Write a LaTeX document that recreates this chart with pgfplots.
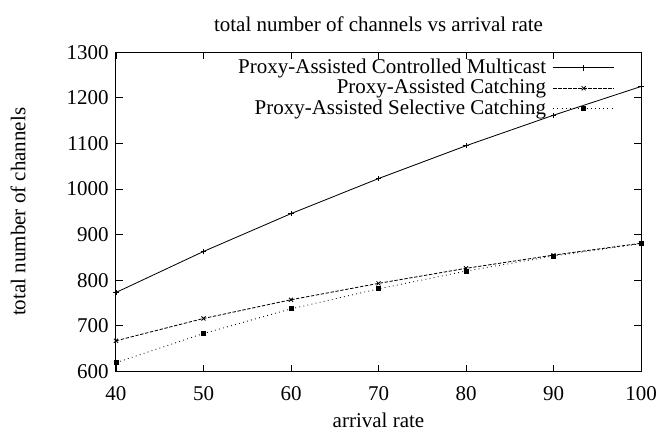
\documentclass[border=0pt,11pt]{standalone}
\usepackage{fontspec}
\setmainfont{Liberation Serif}
\usepackage{pgfplots}
\pgfplotsset{compat=1.18}
\usetikzlibrary{calc}
\begin{document}
\fontsize{12.6}{15}\selectfont
\begin{tikzpicture}
\begin{axis}[
  scale only axis,
  width=315pt, height=191.4pt,
  xmin=40, xmax=100, ymin=600, ymax=1300,
  xtick={40,50,...,100}, ytick={600,700,...,1300},
  tick align=inside,
  major tick length=4pt,
  /pgf/number format/assume math mode=true,
  /pgf/number format/1000 sep={},
  xticklabel style={yshift=-5pt},
  title={total number of channels vs arrival rate},
  title style={yshift=2pt},
  xlabel={arrival rate},
  xlabel style={yshift=1.5pt},
  ylabel={total number of channels},
  ylabel style={yshift=16pt},
  axis line style={line width=0.6pt},
  every tick/.style={black, line width=0.5pt},
  legend plot pos=right,
  legend cell align=right,
  legend style={draw=none, fill=none, at={(0.95,0.98)}, anchor=north east,
    nodes={inner sep=0pt}, row sep=1.6pt, column sep=4pt, inner sep=0pt},
  legend image code/.code={\draw[#1, mark repeat=2, mark phase=2] plot coordinates {(0cm,0cm) (0.64cm,0cm) (1.28cm,0cm)};},
]
\coordinate (ll) at (rel axis cs:0,0);
\coordinate (ur) at (rel axis cs:1,1);
\addplot[black, line width=0.5pt, mark=+, mark size=1.6pt, mark options={solid}] coordinates {
(40,773) (50,863) (60,946) (70,1023) (80,1095) (90,1162) (100,1225)};
\addlegendentry{Proxy-Assisted Controlled Multicast}
\addplot[black, line width=0.5pt, dashed, dash pattern=on 2pt off 1pt, mark=x, mark size=1.7pt, mark options={solid}] coordinates {
(40,667) (50,716) (60,757) (70,793) (80,826) (90,855) (100,881)};
\addlegendentry{Proxy-Assisted Catching}
\addplot[black, line width=0.5pt, dotted, mark=square*, mark size=1.2pt, mark options={solid}] coordinates {
(40,619) (50,683) (60,737) (70,781) (80,820) (90,853) (100,880)};
\addlegendentry{Proxy-Assisted Selective Catching}
\end{axis}
\pgfresetboundingbox
\path[use as bounding box] ($(ll)+(-69.6pt,-37pt)$) rectangle ($(ur)+(10.2pt,31.4pt)$);
\end{tikzpicture}
\end{document}
